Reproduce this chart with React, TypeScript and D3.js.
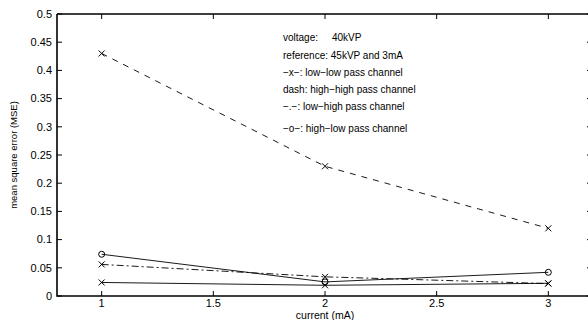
import React, { useEffect, useRef } from 'react';
import * as d3 from 'd3';

// currents (mA)
const currents = [1, 2, 3];
// MSE per channel
const lowLow = [0.024, 0.019, 0.0225];
const highHigh = [0.43, 0.23, 0.12];
const lowHigh = [0.056, 0.034, 0.022];
const highLow = [0.074, 0.025, 0.042];

const xTicks = [1, 1.5, 2, 2.5, 3];
const yTicks = [0, 0.05, 0.1, 0.15, 0.2, 0.25, 0.3, 0.35, 0.4, 0.45, 0.5];

const notes = [
  'voltage:     40kVP',
  'reference: 45kVP and 3mA',
  '\u2212x\u2212: low\u2212low pass channel',
  'dash: high\u2212high pass channel',
  '\u2212.\u2212: low\u2212high pass channel',
  '\u2212o\u2212: high\u2212low pass channel',
];

const App = () => {
  const chartRef = useRef<SVGSVGElement>(null);

  useEffect(() => {
    const svg = d3.select(chartRef.current);
    svg.selectAll('*').remove();

    const width = 588;
    const height = 320;
    const left = 57, right = 593, top = 14, bottom = 296;
    const font = 'Liberation Sans, Arial, sans-serif';

    const x = d3.scaleLinear().domain([0.8, 3.2]).range([left, right]);
    const y = d3.scaleLinear().domain([0, 0.5]).range([bottom, top]);

    svg.append('rect').attr('width', width).attr('height', height).attr('fill', '#fff');

    // series lines
    const line = d3
      .line<number>()
      .x((d, i) => x(currents[i]))
      .y((d) => y(d));

    const series = [
      { values: lowLow, dash: null, marker: 'x' },
      { values: highHigh, dash: '6,6', marker: 'x' },
      { values: lowHigh, dash: '7,3,2,3', marker: 'x' },
      { values: highLow, dash: null, marker: 'o' },
    ];

    series.forEach((s) => {
      svg
        .append('path')
        .datum(s.values)
        .attr('d', line)
        .attr('fill', 'none')
        .attr('stroke', '#000')
        .attr('stroke-width', 0.9)
        .attr('stroke-dasharray', s.dash);

      s.values.forEach((v, i) => {
        const cx = x(currents[i]);
        const cy = y(v);
        if (s.marker === 'x') {
          svg
            .append('path')
            .attr('d', `M${cx - 3},${cy - 3}L${cx + 3},${cy + 3}M${cx - 3},${cy + 3}L${cx + 3},${cy - 3}`)
            .attr('stroke', '#000')
            .attr('stroke-width', 1);
        } else {
          svg
            .append('circle')
            .attr('cx', cx)
            .attr('cy', cy)
            .attr('r', 3)
            .attr('fill', 'none')
            .attr('stroke', '#000')
            .attr('stroke-width', 1);
        }
      });
    });

    // axes box
    svg
      .append('path')
      .attr('d', `M${left},${top}H${right}M${left},${top}V${bottom}H${right}`)
      .attr('fill', 'none')
      .attr('stroke', '#000')
      .attr('stroke-width', 1.6);
    svg
      .append('line')
      .attr('x1', right).attr('x2', right).attr('y1', top).attr('y2', bottom)
      .attr('stroke', '#000');

    // x ticks
    const xt = svg.selectAll('.xt').data(xTicks).enter().append('g');
    xt.append('line')
      .attr('x1', (d) => x(d)).attr('x2', (d) => x(d))
      .attr('y1', bottom).attr('y2', bottom - 5)
      .attr('stroke', '#000');
    xt.append('line')
      .attr('x1', (d) => x(d)).attr('x2', (d) => x(d))
      .attr('y1', top).attr('y2', top + 5)
      .attr('stroke', '#000');
    xt.append('text')
      .text((d) => d)
      .attr('x', (d) => x(d))
      .attr('y', bottom + 11)
      .attr('text-anchor', 'middle')
      .attr('font-family', font)
      .attr('font-size', 11);

    // y ticks
    const yt = svg.selectAll('.yt').data(yTicks).enter().append('g');
    yt.append('line')
      .attr('x1', left).attr('x2', left + 5)
      .attr('y1', (d) => y(d)).attr('y2', (d) => y(d))
      .attr('stroke', '#000');
    yt.append('line')
      .attr('x1', right - 6).attr('x2', right)
      .attr('y1', (d) => y(d)).attr('y2', (d) => y(d))
      .attr('stroke', '#000');
    yt.append('text')
      .text((d) => d)
      .attr('x', left - 5)
      .attr('y', (d) => y(d))
      .attr('dy', '0.35em')
      .attr('text-anchor', 'end')
      .attr('font-family', font)
      .attr('font-size', 11);

    // axis labels
    svg
      .append('text')
      .text('current (mA)')
      .attr('x', (left + right) / 2)
      .attr('y', 319)
      .attr('text-anchor', 'middle')
      .attr('font-family', font)
      .attr('font-size', 10.5);
    svg
      .append('text')
      .text('mean square error (MSE)')
      .attr('transform', `translate(17,${(top + bottom) / 2}) rotate(-90)`)
      .attr('text-anchor', 'middle')
      .attr('font-family', font)
      .attr('font-size', 9.5);

    // annotation block
    const noteY = [37, 55, 72, 89, 106, 128];
    svg
      .selectAll('.note')
      .data(notes)
      .enter()
      .append('text')
      .text((d) => d)
      .attr('x', 283)
      .attr('y', (d, i) => noteY[i])
      .attr('dy', '0.35em')
      .attr('xml:space', 'preserve')
      .style('white-space', 'pre')
      .attr('font-family', font)
      .attr('font-size', 10);
  }, []);

  return (
    <svg
      ref={chartRef}
      width={588}
      height={320}
      style={{ position: 'absolute', left: 0, top: 0 }}
    />
  );
};

export default App;
